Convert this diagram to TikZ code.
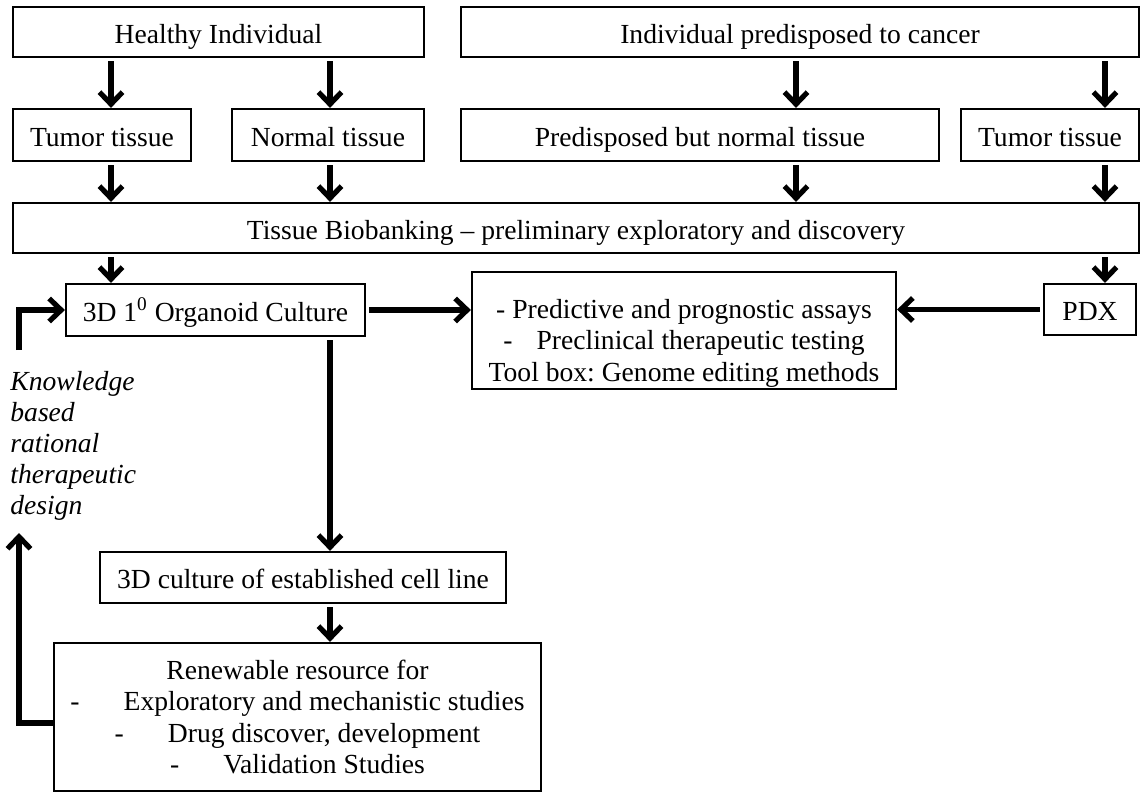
\documentclass[tikz,border=0pt]{standalone}
\usepackage{fontspec}
\setmainfont{Liberation Serif}
\usetikzlibrary{arrows.meta,calc}
\begin{document}
\frenchspacing
\begin{tikzpicture}[x=0.5pt,y=-0.5pt,
  font=\fontsize{13.8}{15.75}\selectfont,
  box/.style={draw,line width=1.1pt,inner sep=0pt,align=center},
  onebox/.style={box,text height=13pt,text depth=2pt},
  plain/.style={inner sep=0pt,align=center},
  arr/.style={line width=2.6pt,-{Straight Barb[length=6pt,width=11.5pt,line width=2.6pt]},shorten <=1.5pt}]
\useasboundingbox (0,0) rectangle (1140,793);
% top row
\node[onebox,minimum width=205.5pt,minimum height=25pt] (HI) at (218.5,32) {Healthy Individual};
\node[onebox,minimum width=339pt,minimum height=25pt] (IP) at (800,32) {Individual predisposed to cancer};
% tissue row
\node[onebox,minimum width=89pt,minimum height=26pt] (TT1) at (102,135) {Tumor tissue};
\node[onebox,minimum width=96pt,minimum height=26pt] (NT) at (328,135) {Normal tissue};
\node[onebox,minimum width=239pt,minimum height=26pt] (PN) at (700,135) {Predisposed but normal tissue};
\node[onebox,minimum width=89pt,minimum height=26pt] (TT2) at (1050,135) {Tumor tissue};
% biobank
\node[onebox,minimum width=563pt,minimum height=25pt] (TB) at (576,228) {Tissue Biobanking -- preliminary exploratory and discovery};
% organoid row
\node[onebox,minimum width=149.5pt,minimum height=26pt] (OC) at (215.5,310) {3D 1\textsuperscript{0} Organoid Culture};
\node[box,minimum width=212pt,minimum height=58.5pt] (PR) at (684,330.5) {};
\node[plain] (PRt) at (684,343) {- Predictive and prognostic assays\\-\hspace{12pt}Preclinical therapeutic testing\\Tool box: Genome editing methods};
\node[onebox,minimum width=46pt,minimum height=25.5pt] (PDX) at (1090,309.5) {PDX};
% lower part
\node[onebox,minimum width=203pt,minimum height=25.5pt] (CL) at (303,577.5) {3D culture of established cell line};
\node[box,minimum width=243.5pt,minimum height=74pt] (RR) at (297.5,717) {Renewable resource for\\-\hspace{22pt}Exploratory and mechanistic studies\\-\hspace{22pt}Drug discover, development\\-\hspace{22pt}Validation Studies};
\node[plain,align=left,anchor=north west,font=\fontsize{13.8}{15.5}\selectfont\itshape] (KN) at (10,371) {Knowledge\\based\\rational\\therapeutic\\design};
% helper coordinates
\coordinate (xa) at (111,0);
\coordinate (xb) at (330,0);
\coordinate (xc) at (796,0);
\coordinate (xd) at (1105,0);
\coordinate (fy) at (0,723);
\coordinate (fbtop) at (19,533);
\coordinate (fbbot) at (19,353);
% connectors
\draw[arr] (HI.south -| xa) -- (TT1.north -| xa);
\draw[arr] (HI.south -| xb) -- (NT.north -| xb);
\draw[arr] (IP.south -| xc) -- (PN.north -| xc);
\draw[arr] (IP.south -| xd) -- (TT2.north -| xd);
\draw[arr] (TT1.south -| xa) -- (TB.north -| xa);
\draw[arr] (NT.south -| xb) -- (TB.north -| xb);
\draw[arr] (PN.south -| xc) -- (TB.north -| xc);
\draw[arr] (TT2.south -| xd) -- (TB.north -| xd);
\draw[arr] (TB.south -| xa) -- (OC.north -| xa);
\draw[arr] (TB.south -| xd) -- (PDX.north -| xd);
\draw[arr] (OC.east) -- (OC.east -| PR.west);
\draw[arr] (PDX.west) -- (PDX.west -| PR.east);
\draw[arr] (OC.south -| xb) -- (CL.north -| xb);
\draw[arr] (CL.south -| xb) -- (RR.north -| xb);
\draw[arr,shorten <=0pt] (RR.west |- fy) -| (fbtop);
\draw[arr] (fbbot) |- (OC.west);
\end{tikzpicture}
\end{document}
